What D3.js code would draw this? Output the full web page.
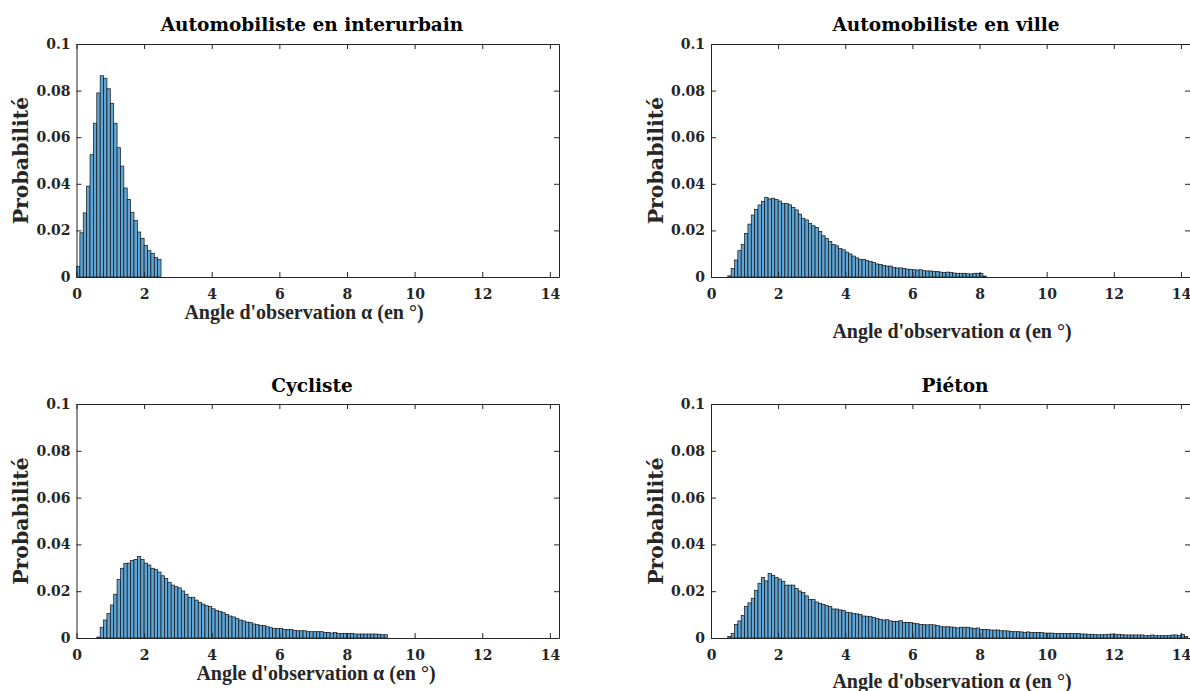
<!DOCTYPE html>
<html>
<head>
<meta charset="utf-8">
<script src="https://cdn.jsdelivr.net/npm/d3@7/dist/d3.min.js"></script>
<style>
  html, body { margin: 0; padding: 0; background: #ffffff; }
  svg { display: block; }
</style>
</head>
<body>
<svg id="chart" width="1190" height="691"></svg>
<script>
// ---------------- DATA ----------------
const binWidth = 0.1;
const xTicks = [0, 2, 4, 6, 8, 10, 12, 14];
const yTicks = [0, 0.02, 0.04, 0.06, 0.08, 0.1];
const yTickLabels = ["0", "0.02", "0.04", "0.06", "0.08", "0.1"];
const titles = ["Automobiliste en interurbain", "Automobiliste en ville", "Cycliste", "Piéton"];
const yLabel = "Probabilité";
const xLabel = "Angle d'observation \u03b1 (en \u00b0)";

const interurbainStart = 0.0;
const interurbainValues = [0.0046, 0.019, 0.0275, 0.039, 0.0525, 0.066, 0.079, 0.0864, 0.0853, 0.0808,
  0.0744, 0.066, 0.0555, 0.0476, 0.0382, 0.0333, 0.0278, 0.0243, 0.0193, 0.0166,
  0.0136, 0.0113, 0.0102, 0.0084, 0.0076];

const villeStart = 0.5;
const villeValues = [0.0005, 0.0036, 0.0073, 0.0113, 0.014, 0.0187, 0.0227, 0.0266, 0.029, 0.0309,
  0.0325, 0.0342, 0.0335, 0.0338, 0.0333, 0.0326, 0.0316, 0.0315, 0.031, 0.0299,
  0.0288, 0.027, 0.0252, 0.0245, 0.0229, 0.022, 0.0213, 0.0195, 0.0177, 0.0165,
  0.0152, 0.014, 0.0134, 0.0122, 0.0117, 0.0107, 0.0099, 0.009, 0.0082, 0.0076,
  0.0076, 0.007, 0.0066, 0.0063, 0.0056, 0.0054, 0.0049, 0.0047, 0.0047, 0.0041,
  0.0039, 0.0039, 0.0036, 0.0034, 0.0033, 0.0031, 0.003, 0.0031, 0.0027, 0.0026,
  0.0026, 0.0023, 0.0024, 0.0021, 0.002, 0.0021, 0.002, 0.0017, 0.0016, 0.0016,
  0.0016, 0.0014, 0.0013, 0.0016, 0.0016, 0.0016, 0.0004];

const cyclisteStart = 0.6;
const cyclisteValues = [0.0004, 0.0046, 0.0077, 0.0105, 0.0141, 0.0187, 0.025, 0.0298, 0.0319, 0.032,
  0.0332, 0.0336, 0.0348, 0.0336, 0.032, 0.0312, 0.0298, 0.0293, 0.0282, 0.0266,
  0.0254, 0.0238, 0.0226, 0.0219, 0.0214, 0.0201, 0.0187, 0.0174, 0.0174, 0.0162,
  0.0152, 0.0145, 0.0138, 0.0134, 0.0125, 0.0118, 0.0114, 0.0108, 0.0101, 0.0094,
  0.009, 0.0084, 0.0077, 0.0073, 0.0068, 0.0066, 0.006, 0.0057, 0.0053, 0.0053,
  0.0048, 0.0044, 0.004, 0.004, 0.004, 0.0037, 0.0036, 0.0036, 0.0033, 0.0031,
  0.0031, 0.0031, 0.0027, 0.0027, 0.0027, 0.0027, 0.0027, 0.0024, 0.0024, 0.0021,
  0.0023, 0.002, 0.002, 0.002, 0.002, 0.002, 0.0017, 0.0017, 0.0017, 0.0017,
  0.0017, 0.0017, 0.0017, 0.0016, 0.0014, 0.0014];

const pietonStart = 0.5;
const pietonValues = [0.0007, 0.002, 0.0058, 0.0073, 0.0097, 0.0134, 0.015, 0.017, 0.0204, 0.0234,
  0.0258, 0.0244, 0.0276, 0.0268, 0.0259, 0.0252, 0.0242, 0.0226, 0.0226, 0.0226,
  0.0211, 0.0201, 0.0194, 0.018, 0.0165, 0.0165, 0.0154, 0.0148, 0.0144, 0.0138,
  0.0134, 0.0124, 0.0124, 0.012, 0.0117, 0.011, 0.0108, 0.0105, 0.0103, 0.01,
  0.0094, 0.0093, 0.0091, 0.0087, 0.0084, 0.008, 0.0077, 0.0078, 0.0073, 0.0071,
  0.0071, 0.0074, 0.0067, 0.0067, 0.0066, 0.0063, 0.0061, 0.0058, 0.0057, 0.0056,
  0.0057, 0.0056, 0.0053, 0.0048, 0.0048, 0.0048, 0.0047, 0.0046, 0.0043, 0.0046,
  0.0046, 0.0046, 0.0043, 0.004, 0.0043, 0.0037, 0.0037, 0.0036, 0.0034, 0.0034,
  0.0034, 0.0031, 0.0031, 0.003, 0.0028, 0.0027, 0.0027, 0.0026, 0.0024, 0.0026,
  0.0024, 0.0023, 0.0023, 0.0023, 0.0021, 0.0021, 0.0021, 0.002, 0.002, 0.002,
  0.0019, 0.0019, 0.002, 0.0019, 0.0019, 0.0017, 0.0017, 0.0016, 0.0016, 0.0014,
  0.0014, 0.0014, 0.0014, 0.0016, 0.0017, 0.0014, 0.0016, 0.0014, 0.0013, 0.0013,
  0.0013, 0.0013, 0.0013, 0.0013, 0.001, 0.001, 0.0013, 0.001, 0.001, 0.001,
  0.001, 0.001, 0.0013, 0.0013, 0.001, 0.0016, 0.0006];

const xMax = 14.27;
const yMax = 0.1;

// ---------------- LAYOUT ----------------
const panels = [
  { title: titles[0], start: interurbainStart, values: interurbainValues, left: 76.5, right: 559, top: 44, bottom: 277, titleX: 312, titleY: 31, xLabelX: 304, xLabelY: 319, yLabelX: 28 },
  { title: titles[1], start: villeStart, values: villeValues, left: 711, right: 1190, top: 44, bottom: 277, titleX: 946, titleY: 31, xLabelX: 952, xLabelY: 338, yLabelX: 663 },
  { title: titles[2], start: cyclisteStart, values: cyclisteValues, left: 76.5, right: 559, top: 404, bottom: 638, titleX: 312, titleY: 392, xLabelX: 316, xLabelY: 680, yLabelX: 28 },
  { title: titles[3], start: pietonStart, values: pietonValues, left: 711, right: 1190, top: 404, bottom: 638, titleX: 955, titleY: 392, xLabelX: 952, xLabelY: 688, yLabelX: 663 }
];

const svg = d3.select("#chart");
const axisColor = "#262626";
const tickFont = "'DejaVu Serif', serif";

panels.forEach(p => {
  const x = d3.scaleLinear().domain([0, xMax]).range([p.left, p.right]);
  const y = d3.scaleLinear().domain([0, yMax]).range([p.bottom, p.top]);
  const g = svg.append("g");

  // bars
  const bins = p.values.map((v, i) => ({ x0: p.start + i * binWidth, x1: p.start + (i + 1) * binWidth, v }));
  g.append("g").selectAll("rect").data(bins).join("rect")
    .attr("x", d => x(d.x0))
    .attr("width", d => x(d.x1) - x(d.x0))
    .attr("y", d => y(d.v))
    .attr("height", d => y(0) - y(d.v))
    .attr("fill", "#5fa5d6")
    .attr("stroke", "#111")
    .attr("stroke-width", 0.7);

  // axes
  const styleAxis = sel => {
    sel.selectAll("path.domain").attr("stroke", axisColor).attr("stroke-width", 1);
    sel.selectAll(".tick line").attr("stroke", axisColor).attr("stroke-width", 1);
    sel.selectAll("text").attr("fill", axisColor).attr("font-family", tickFont)
      .attr("font-weight", "bold").attr("font-size", 14);
  };
  const xAxis = d3.axisBottom(x).tickValues(xTicks).tickFormat(d3.format("d"))
    .tickSizeInner(-5).tickSizeOuter(0).tickPadding(12);
  g.append("g").attr("transform", `translate(0,${p.bottom})`).call(xAxis).call(styleAxis);
  const xAxisTop = d3.axisTop(x).tickValues(xTicks).tickFormat("")
    .tickSizeInner(-5).tickSizeOuter(0);
  g.append("g").attr("transform", `translate(0,${p.top})`).call(xAxisTop).call(styleAxis);
  const yAxis = d3.axisLeft(y).tickValues(yTicks).tickFormat((d, i) => yTickLabels[i])
    .tickSizeInner(-5).tickSizeOuter(0).tickPadding(6);
  g.append("g").attr("transform", `translate(${p.left},0)`).call(yAxis).call(styleAxis);
  const yAxisRight = d3.axisRight(y).tickValues(yTicks).tickFormat("")
    .tickSizeInner(-5).tickSizeOuter(0);
  g.append("g").attr("transform", `translate(${p.right},0)`).call(yAxisRight).call(styleAxis);

  // title
  svg.append("text")
    .attr("x", p.titleX)
    .attr("y", p.titleY)
    .attr("text-anchor", "middle")
    .attr("font-family", tickFont)
    .attr("font-weight", "bold")
    .attr("font-size", 18.5)
    .attr("fill", "#000")
    .text(p.title);

  // x label
  svg.append("text")
    .attr("x", p.xLabelX)
    .attr("y", p.xLabelY)
    .attr("text-anchor", "middle")
    .attr("font-family", "'Liberation Serif', serif")
    .attr("font-weight", "bold")
    .attr("font-size", 20)
    .attr("fill", axisColor)
    .text(xLabel);

  // y label
  svg.append("text")
    .attr("transform", `translate(${p.yLabelX},${(p.top + p.bottom) / 2}) rotate(-90)`)
    .attr("text-anchor", "middle")
    .attr("font-family", tickFont)
    .attr("font-weight", "bold")
    .attr("font-size", 20.5)
    .attr("fill", axisColor)
    .text(yLabel);
});
</script>
</body>
</html>
